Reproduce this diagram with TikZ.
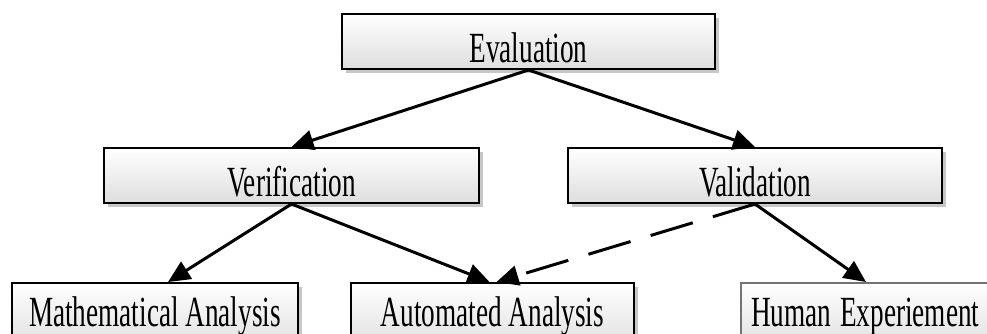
\documentclass[tikz,border=0pt]{standalone}
\usepackage{fontspec}
\usepackage{graphicx}
\setmainfont{Liberation Serif}
\usetikzlibrary{arrows.meta,shadows,calc}

% condensed label text
\newcommand\condensed[1]{\scalebox{0.633}[1]{#1}}

\tikzset{
  box/.style={
    rectangle, anchor=north west, inner xsep=0pt, inner ysep=0pt,
    draw=black, line width=2pt,
    top color=white, bottom color=black!13,
    drop shadow={shadow xshift=4pt, shadow yshift=-4pt, fill=black, opacity=0.22},
    font=\fontsize{43}{43}\selectfont
  },
  midbox/.style={box, text height=48pt, text depth=7pt},
  leafbox/.style={box, text height=43pt, text depth=25pt},
  link/.style={line width=3pt, -{Triangle[length=22pt,width=20pt]}},
  dashlink/.style={link, dash pattern=on 44pt off 21pt}
}

\begin{document}
\begin{tikzpicture}[x=1pt, y=-1pt]
  \useasboundingbox (0,0) rectangle (987,334);
  \clip (0,0) rectangle (987,334);

  % top level
  \node[box, text height=49pt, text depth=6pt, minimum width=373pt] (eval) at (341,13) {\condensed{Evaluation}};

  % second level
  \node[midbox, minimum width=375pt] (verif) at (103,147) {\condensed{Verification}};
  \node[midbox, minimum width=374pt] (valid) at (567,147) {\condensed{Validation}};

  % leaves
  \node[leafbox, minimum width=286pt] (math) at (11,282) {\condensed{Mathematical Analysis}};
  \node[leafbox, minimum width=283pt] (auto) at (350,282) {\condensed{Automated Analysis}};
  \node[leafbox, draw=black!55, inner xsep=10pt, text width=250pt, align=left] (human) at (740,282) {\condensed{Human Experiement}};

  % connectors
  \draw[link] (eval.south) -- (verif.north);
  \draw[link] (eval.south) -- (valid.north);
  \draw[link] (verif.south) -- ([xshift=13pt]math.north);
  \draw[link] (verif.south) -- ([xshift=-3pt]auto.north);
  \draw[dashlink] (valid.south) -- ([xshift=4pt]auto.north);
  \draw[link] (valid.south) -- ([xshift=126pt]human.north west);
\end{tikzpicture}
\end{document}
